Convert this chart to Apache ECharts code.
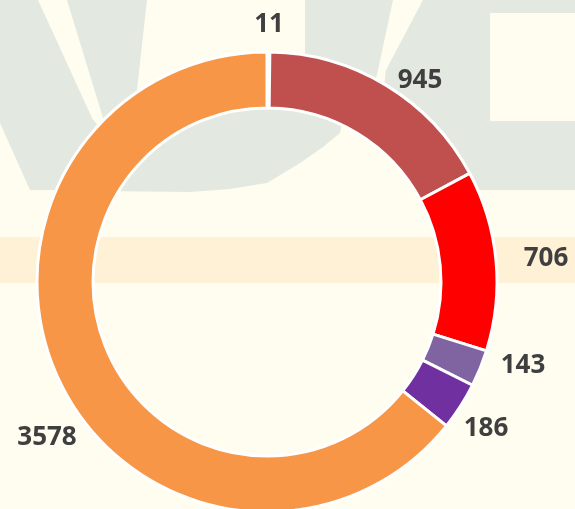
<!DOCTYPE html>
<html>
<head>
<meta charset="utf-8">
<script src="https://cdn.jsdelivr.net/npm/echarts@6/dist/echarts.min.js"></script>
<style>
html,body{margin:0;padding:0;background:#FEFDF0;}
#chart{width:575px;height:509px;}
</style>
</head>
<body>
<div id="chart"></div>
<script>
// ---- data ----
const categories = ['A', 'B', 'C', 'D', 'E', 'F'];
const values = [11, 945, 706, 143, 186, 3578];
const colors = ['#4BACC6', '#C0504D', '#FF0000', '#8064A2', '#7030A0', '#F79646'];
// label anchor positions (manually placed labels, as in the original)
const labelPos = [[269, 25], [420, 81], [546, 259], [523, 366], [486, 429], [47, 438]];

const green = '#E3E9E0';
const chart = echarts.init(document.getElementById('chart'));
chart.setOption({
  backgroundColor: '#FEFDF0',
  animation: false,
  graphic: [
    { type: 'rect', z: -10, silent: true, shape: { x: 0, y: 237, width: 575, height: 46 }, style: { fill: '#FEF1D6' } },
    { type: 'polygon', z: -10, silent: true, shape: { points: [[0,0],[38,0],[92,118],[105,135],[75,190],[30,190],[0,123]] }, style: { fill: green } },
    { type: 'polygon', z: -10, silent: true, shape: { points: [[67,0],[147,0],[137,90],[150,95],[112,128],[103,118]] }, style: { fill: green } },
    { type: 'polygon', z: -10, silent: true, shape: { points: [[110,150],[100,191],[190,192],[230,189],[267,183],[300,163],[323,147],[340,133],[345,110],[267,100],[160,105]] }, style: { fill: green } },
    { type: 'polygon', z: -10, silent: true, shape: { points: [[305,0],[393,0],[378,70],[372,95],[330,70],[305,60]] }, style: { fill: green } },
    { type: 'polygon', z: -10, silent: true, shape: { points: [[423,0],[575,0],[575,190],[470,190],[440,140],[383,95],[386,70]] }, style: { fill: green } },
    { type: 'rect', z: -9, silent: true, shape: { x: 490, y: 13, width: 85, height: 108 }, style: { fill: '#FEFDF0' } }
  ],
  series: [{
    type: 'pie',
    center: [267, 282],
    radius: [174, 230],
    startAngle: 90,
    clockwise: true,
    avoidLabelOverlap: false,
    itemStyle: { borderColor: '#FFFFFF', borderWidth: 3 },
    label: {
      show: true,
      position: 'outside',
      formatter: '{c}',
      color: '#3F3F3F',
      fontFamily: 'Open Sans',
      fontWeight: 'bold',
      fontSize: 26
    },
    labelLine: { show: false },
    labelLayout: function (params) {
      const p = labelPos[params.dataIndex];
      return { x: p[0], y: p[1], align: 'center', verticalAlign: 'middle' };
    },
    data: categories.map((c, i) => ({ name: c, value: values[i], itemStyle: { color: colors[i] } }))
  }]
});
</script>
</body>
</html>
